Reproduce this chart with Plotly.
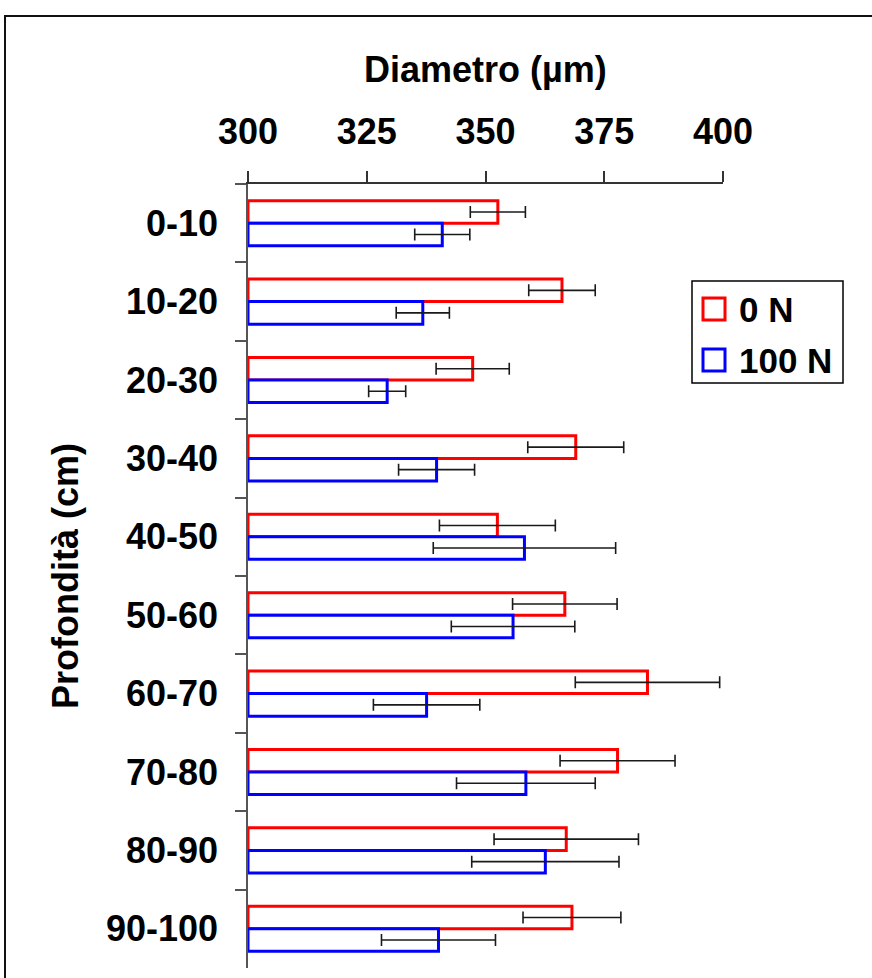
import plotly.graph_objects as go

# Depth classes and mean root diameter (µm) with standard errors
depths = ["0-10", "10-20", "20-30", "30-40", "40-50",
          "50-60", "60-70", "70-80", "80-90", "90-100"]
series_names = ["0 N", "100 N"]
diam_0N = [352.6, 366.1, 347.3, 369.0, 352.5, 366.7, 384.1, 377.8, 367.0, 368.2]
err_0N = [5.8, 7.0, 7.7, 10.1, 12.2, 11.0, 15.2, 12.1, 15.2, 10.3]
diam_100N = [340.9, 336.8, 329.3, 339.7, 358.2, 355.8, 337.6, 358.5, 362.6, 340.1]
err_100N = [5.8, 5.6, 3.9, 8.0, 19.2, 13.0, 11.2, 14.6, 15.5, 12.0]
x_ticks = [300, 325, 350, 375, 400]
x_min, x_max = 300, 400

FONT = "Liberation Sans, Arial, sans-serif"
W, H = 872, 978
ML, MR, MT, MB = 248, 149, 184, 10
PW, PH = W - ML - MR, H - MT - MB


def px_x(p):
    return (p - ML) / PW


def px_y(p):
    return (H - MB - p) / PH


fig = go.Figure()
for name, vals, errs, color in [
    (series_names[0], diam_0N, err_0N, "#FF0000"),
    (series_names[1], diam_100N, err_100N, "#0000FF"),
]:
    fig.add_trace(go.Bar(
        name=name,
        y=depths,
        x=[v - x_min for v in vals],
        base=x_min,
        orientation="h",
        marker=dict(color="white", line=dict(color=color, width=3)),
        error_x=dict(type="data", array=errs, visible=True,
                     color="#1a1a1a", thickness=1.6, width=6),
        showlegend=False,
    ))

fig.update_layout(
    width=W, height=H,
    margin=dict(l=ML, r=MR, t=MT, b=MB),
    paper_bgcolor="white", plot_bgcolor="white",
    barmode="group", bargap=0.425, bargroupgap=0,
    font=dict(family=FONT, size=36, color="black", weight="bold"),
)

fig.update_xaxes(
    side="top", range=[x_min, x_max], tickvals=x_ticks,
    showgrid=False, zeroline=False,
    showline=True, linecolor="#333333", linewidth=1.5,
    ticks="outside", ticklen=11, tickwidth=1.5, tickcolor="#333333",
    tickfont=dict(family=FONT, size=36, color="black", weight="bold"),
    ticklabelstandoff=13,
)
fig.update_yaxes(
    type="category", categoryorder="array", categoryarray=depths,
    autorange="reversed", tickson="boundaries",
    showgrid=False, zeroline=False,
    showline=True, linecolor="#555555", linewidth=1.5,
    ticks="outside", ticklen=11, tickwidth=1.5, tickcolor="#555555",
    tickfont=dict(family=FONT, size=36, color="black", weight="bold"),
    ticklabelstandoff=21,
)

shapes = [
    # chart frame
    dict(type="rect", xref="paper", yref="paper",
         x0=px_x(5), x1=px_x(W + 20), y0=px_y(H + 20), y1=px_y(16),
         line=dict(color="#111111", width=2), fillcolor="rgba(0,0,0,0)"),
    # legend box
    dict(type="rect", xref="paper", yref="paper",
         x0=px_x(692), x1=px_x(843), y0=px_y(383), y1=px_y(281),
         line=dict(color="black", width=1.5), fillcolor="white"),
]
legend_rows = [(series_names[0], "#FF0000", 309), (series_names[1], "#0000FF", 360)]
annotations = [
    dict(text="Diametro (µm)", xref="paper", yref="paper",
         x=px_x(485), y=px_y(70), showarrow=False,
         xanchor="center", yanchor="middle",
         font=dict(family=FONT, size=36, color="black", weight="bold")),
    dict(text="Profondità (cm)", xref="paper", yref="paper",
         x=px_x(65), y=px_y(576), showarrow=False, textangle=-90,
         xanchor="center", yanchor="middle",
         font=dict(family=FONT, size=36, color="black", weight="bold")),
]
for label, color, yc in legend_rows:
    shapes.append(dict(type="rect", xref="paper", yref="paper",
                       x0=px_x(703), x1=px_x(725), y0=px_y(yc + 11), y1=px_y(yc - 11),
                       line=dict(color=color, width=3), fillcolor="white"))
    annotations.append(dict(text=label, xref="paper", yref="paper",
                            x=px_x(737), y=px_y(yc), showarrow=False,
                            xanchor="left", yanchor="middle",
                            font=dict(family=FONT, size=35, color="black", weight="bold")))

fig.update_layout(shapes=shapes, annotations=annotations)

fig.write_html("out.html")
